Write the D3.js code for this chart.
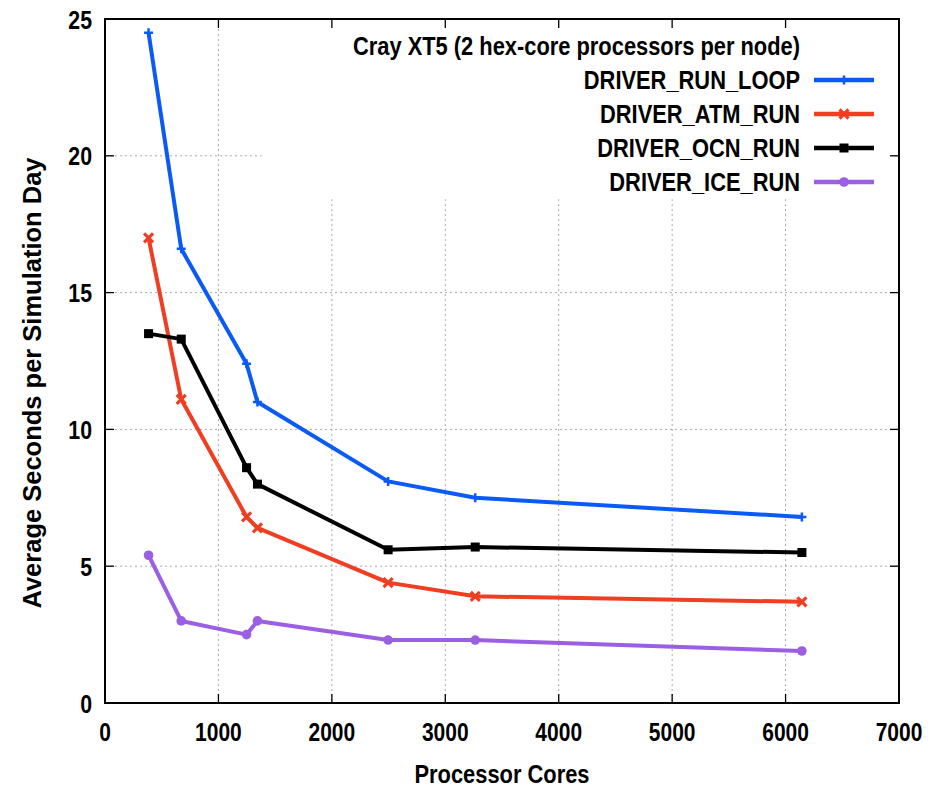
<!DOCTYPE html>
<html>
<head>
<meta charset="utf-8">
<script src="https://cdn.jsdelivr.net/npm/d3@7"></script>
<style>
  body { margin: 0; background: #fff; }
  text { font-family: "Liberation Sans", Arial, Helvetica, sans-serif; font-weight: bold; }
</style>
</head>
<body>
<div id="chart"></div>
<script>
// processor core counts
var cores = [384, 672, 1248, 1344, 2496, 3264, 6144];

var runLoop = [24.5, 16.6, 12.4, 11.0, 8.1, 7.5, 6.8];
var atmRun  = [17.0, 11.1, 6.8, 6.4, 4.4, 3.9, 3.7];
var ocnRun  = [13.5, 13.3, 8.6, 8.0, 5.6, 5.7, 5.5];
var iceRun  = [5.4, 3.0, 2.5, 3.0, 2.3, 2.3, 1.9];

var seriesNames = ["DRIVER_RUN_LOOP", "DRIVER_ATM_RUN", "DRIVER_OCN_RUN", "DRIVER_ICE_RUN"];
var xTicks = [0, 1000, 2000, 3000, 4000, 5000, 6000, 7000];
var yTicks = [0, 5, 10, 15, 20, 25];

var series = [
    {name: seriesNames[0], values: runLoop, color: "#0a5af5", marker: "plus"},
    {name: seriesNames[1], values: atmRun,  color: "#ef3e22", marker: "cross"},
    {name: seriesNames[2], values: ocnRun,  color: "#000000", marker: "square"},
    {name: seriesNames[3], values: iceRun,  color: "#9b5fe3", marker: "circle"}
];

var width = 949, height = 789;
var margin = {left: 105, right: 50, top: 19, bottom: 86};
var plotW = width - margin.left - margin.right;
var plotH = height - margin.top - margin.bottom;

var svg = d3.select("#chart").append("svg")
    .attr("width", width)
    .attr("height", height);

svg.append("rect").attr("width", width).attr("height", height).attr("fill", "#fff");

var x = d3.scaleLinear().domain([0, 7000]).range([0, plotW]);
var y = d3.scaleLinear().domain([0, 25]).range([plotH, 0]);

var g = svg.append("g").attr("transform", "translate(" + margin.left + "," + margin.top + ")");

// condensed bold text (no narrow font installed, so squeeze horizontally)
function narrowText(parent, px, py, str, size, sx, anchor) {
    return parent.append("text")
        .attr("transform", "translate(" + px + "," + py + ") scale(" + sx + ",1)")
        .attr("text-anchor", anchor)
        .attr("font-size", size)
        .text(str);
}

// grid
var grid = g.append("g").attr("class", "grid");
grid.selectAll(".vg").data(xTicks.slice(1, -1)).enter().append("line")
    .attr("x1", function(d) { return x(d); })
    .attr("x2", function(d) { return x(d); })
    .attr("y1", 0).attr("y2", plotH)
    .attr("stroke", "#aaa").attr("stroke-width", 1).attr("stroke-dasharray", "2,3");
grid.selectAll(".hg").data(yTicks.slice(1, -1)).enter().append("line")
    .attr("x1", 0).attr("x2", plotW)
    .attr("y1", function(d) { return y(d); })
    .attr("y2", function(d) { return y(d); })
    .attr("stroke", "#aaa").attr("stroke-width", 1).attr("stroke-dasharray", "2,3");

// key box hides the grid behind it
var keyLeft = x(1380), keyRight = x(6935), keyBottom = y(18.45);
g.append("rect")
    .attr("x", keyLeft).attr("y", 1)
    .attr("width", keyRight - keyLeft)
    .attr("height", keyBottom)
    .attr("fill", "#fff");

// ticks on all four sides, pointing inward
var tickLen = 9;
var ticks = g.append("g").attr("stroke", "#000").attr("stroke-width", 1.3);
xTicks.slice(1, -1).forEach(function(d) {
    ticks.append("line").attr("x1", x(d)).attr("x2", x(d)).attr("y1", plotH).attr("y2", plotH - tickLen);
    ticks.append("line").attr("x1", x(d)).attr("x2", x(d)).attr("y1", 0).attr("y2", tickLen);
});
yTicks.slice(1, -1).forEach(function(d) {
    ticks.append("line").attr("x1", 0).attr("x2", tickLen).attr("y1", y(d)).attr("y2", y(d));
    ticks.append("line").attr("x1", plotW).attr("x2", plotW - tickLen).attr("y1", y(d)).attr("y2", y(d));
});

// border
g.append("rect")
    .attr("x", 0).attr("y", 0)
    .attr("width", plotW).attr("height", plotH)
    .attr("fill", "none").attr("stroke", "#000").attr("stroke-width", 2);

// tick labels
xTicks.forEach(function(d) {
    narrowText(g, x(d), plotH + 38, d, 25, 0.84, "middle");
});
yTicks.forEach(function(d) {
    narrowText(g, -13, y(d) + 9.5, d, 26, 0.82, "end");
});

// axis titles
narrowText(svg, 502, 783, "Processor Cores", 25, 0.875, "middle");
svg.append("text")
    .attr("transform", "translate(41,383) rotate(-90)")
    .attr("text-anchor", "middle")
    .attr("font-size", 25.5)
    .text("Average Seconds per Simulation Day");

// markers
function drawMarker(sel, type, color) {
    var s = 4.5;
    if (type === "plus") {
        sel.append("path").attr("d", "M" + (-s) + ",0H" + s + "M0," + (-s) + "V" + s)
            .attr("stroke", color).attr("stroke-width", 2.5).attr("fill", "none");
    } else if (type === "cross") {
        sel.append("path").attr("d", "M" + (-s) + "," + (-s) + "L" + s + "," + s + "M" + (-s) + "," + s + "L" + s + "," + (-s))
            .attr("stroke", color).attr("stroke-width", 3.2).attr("fill", "none");
    } else if (type === "square") {
        sel.append("rect").attr("x", -4.5).attr("y", -4.5).attr("width", 9).attr("height", 9).attr("fill", color);
    } else {
        sel.append("circle").attr("r", 4.8).attr("fill", color);
    }
}

var line = d3.line()
    .x(function(d, i) { return x(cores[i]); })
    .y(function(d) { return y(d); });

series.forEach(function(s) {
    g.append("path")
        .datum(s.values)
        .attr("d", line)
        .attr("fill", "none")
        .attr("stroke", s.color)
        .attr("stroke-width", 4)
        .attr("stroke-linejoin", "round");
    s.values.forEach(function(v, i) {
        var m = g.append("g").attr("transform", "translate(" + x(cores[i]) + "," + y(v) + ")");
        drawMarker(m, s.marker, s.color);
    });
});

// legend
var legend = svg.append("g");
narrowText(legend, 800, 46 + 9, "Cray XT5 (2 hex-core processors per node)", 25, 0.875, "end");
series.forEach(function(s, i) {
    var ly = 80 + i * 34;
    narrowText(legend, 800, ly + 9, s.name, 25, 0.875, "end");
    legend.append("line")
        .attr("x1", 814).attr("x2", 874)
        .attr("y1", ly).attr("y2", ly)
        .attr("stroke", s.color).attr("stroke-width", 4.5);
    var m = legend.append("g").attr("transform", "translate(844," + ly + ")");
    drawMarker(m, s.marker, s.color);
});
</script>
</body>
</html>
